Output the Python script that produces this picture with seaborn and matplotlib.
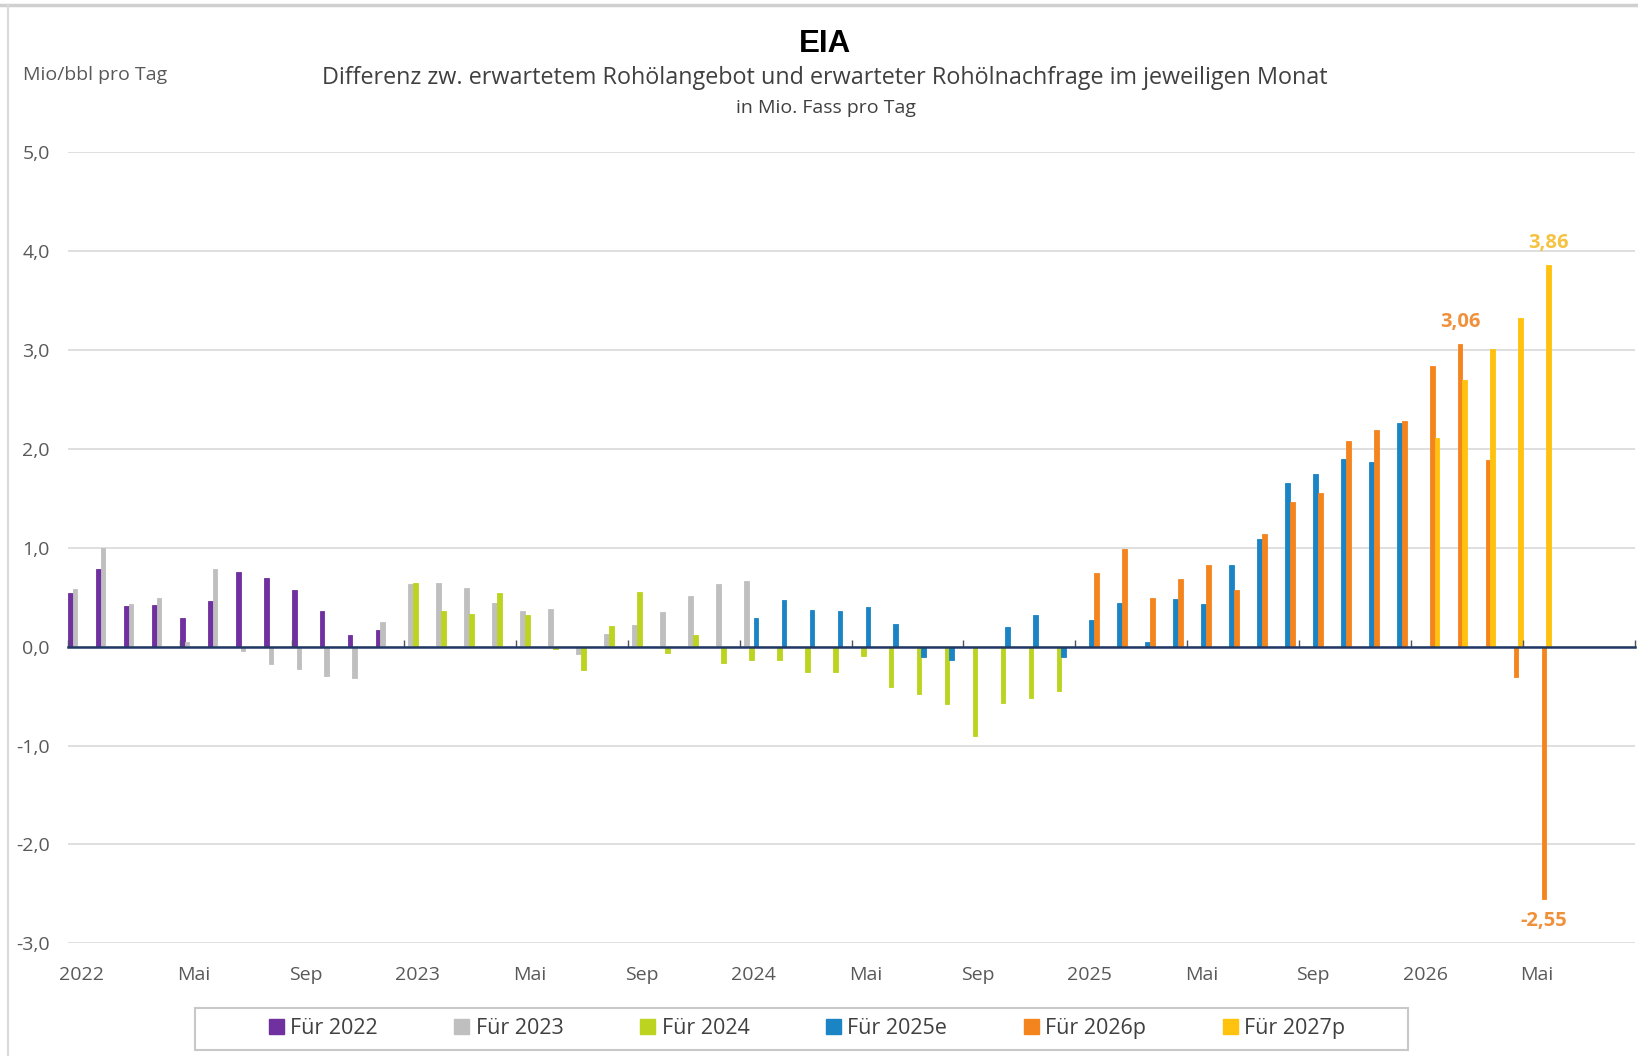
import matplotlib
matplotlib.use("Agg")
import matplotlib.pyplot as plt
from matplotlib.patches import Rectangle
from matplotlib.lines import Line2D
import seaborn as sns
import pandas as pd

# Monate Jan 2022 .. Aug 2026
months = pd.date_range("2022-01-01", "2026-08-01", freq="MS")
month_keys = [d.strftime("%Y-%m") for d in months]

series_names = ["Für 2022", "Für 2023", "Für 2024", "Für 2025e", "Für 2026p", "Für 2027p"]
series_colors = ["#7030A0", "#BFBFBF", "#BCD41F", "#1B84C4", "#F4851E", "#FFC20E"]

# erster Monat jeder Reihe + Werte (Mio. bbl/Tag)
start_2022 = "2022-01"
vals_2022 = [0.54, 0.79, 0.41, 0.42, 0.29, 0.46, 0.76, 0.70, 0.57, 0.36, 0.12, 0.17]
start_2023 = "2022-01"
vals_2023 = [0.58, 1.00, 0.43, 0.49, 0.05, 0.79, -0.04, -0.17, -0.23, -0.30, -0.32, 0.25,
             0.63, 0.65, 0.59, 0.44, 0.36, 0.38, -0.07, 0.13, 0.22, 0.35, 0.51, 0.63, 0.67]
start_2024 = "2023-01"
vals_2024 = [0.64, 0.36, 0.33, 0.54, 0.32, -0.02, -0.24, 0.21, 0.55, -0.06, 0.12, -0.16,
             -0.13, -0.13, -0.26, -0.26, -0.09, -0.41, -0.48, -0.58, -0.90, -0.57, -0.52, -0.45]
start_2025 = "2024-01"
vals_2025 = [0.29, 0.47, 0.37, 0.36, 0.40, 0.23, -0.10, -0.13, 0.0, 0.20, 0.32, -0.10,
             0.27, 0.44, 0.05, 0.48, 0.43, 0.83, 1.09, 1.66, 1.75, 1.90, 1.87, 2.26]
start_2026 = "2025-01"
vals_2026 = [0.75, 0.99, 0.49, 0.69, 0.83, 0.57, 1.14, 1.46, 1.56, 2.08, 2.19, 2.28,
             2.84, 3.06, 1.89, -0.31, -2.55]
start_2027 = "2026-01"
vals_2027 = [2.11, 2.70, 3.01, 3.33, 3.86]

# beschriftete Werte: (Reihe, Monat, Farbe)
labelled = [("Für 2026p", "2026-02", "#F0903A"),
            ("Für 2026p", "2026-05", "#F0903A"),
            ("Für 2027p", "2026-05", "#F5C242")]

rows = []
for name, start, vals in zip(series_names,
                             [start_2022, start_2023, start_2024, start_2025, start_2026, start_2027],
                             [vals_2022, vals_2023, vals_2024, vals_2025, vals_2026, vals_2027]):
    i0 = month_keys.index(start)
    for k, v in enumerate(vals):
        rows.append({"monat": month_keys[i0 + k], "serie": name, "wert": v})
df = pd.DataFrame(rows)

sns.set_style("white")
plt.rcParams["font.family"] = ["Open Sans", "DejaVu Sans"]

fig = plt.figure(figsize=(16.38, 10.56), dpi=100)
ax = fig.add_axes([0.0415, 0.1067, 0.9567, 0.7489])

sns.barplot(data=df, x="monat", y="wert", hue="serie", order=month_keys,
            hue_order=series_names, palette=series_colors, width=1.0, gap=0.0,
            dodge=True, saturation=1, errorbar=None, ax=ax)
for cont in ax.containers:
    for b in cont:
        b.set_edgecolor(b.get_facecolor())
        b.set_linewidth(0.6)

ax.set_xlim(-0.5, len(month_keys) - 0.5)
ax.set_ylim(-3, 5)
ax.set_yticks(range(-3, 6))
ax.set_yticklabels([f"{v:.1f}".replace(".", ",") for v in range(-3, 6)])
tick_pos = [i for i, d in enumerate(months) if d.month in (1, 5, 9)]
tick_lab = [str(months[i].year) if months[i].month == 1 else ("Mai" if months[i].month == 5 else "Sep")
            for i in tick_pos]
ax.set_xticks(tick_pos)
ax.set_xticklabels(tick_lab)
ax.set_xlabel("")
ax.set_ylabel("")
ax.tick_params(axis="y", length=0, pad=13, labelsize=14, labelcolor="#595959")
ax.tick_params(axis="x", length=0, pad=16, labelsize=14, labelcolor="#595959")
ax.yaxis.grid(True, color="#D9D9D9", lw=1.2)
ax.set_axisbelow(True)
for s in ax.spines.values():
    s.set_visible(False)

# Nulllinie mit kleinen Teilstrichen alle 4 Monate
zero = ax.secondary_xaxis(0, transform=ax.transData)
zero.spines["bottom"].set_color("#203864")
zero.spines["bottom"].set_linewidth(1.8)
zero.set_xticks([i - 0.5 for i in range(0, len(month_keys) + 1, 4)])
zero.tick_params(axis="x", direction="in", length=5, width=1.0, color="#505060", labelbottom=False)
zero.set_zorder(3)

# Werte-Beschriftungen
for cont, name in zip(ax.containers, series_names):
    sub = df[df["serie"] == name]
    labs = []
    cols = []
    for m, v in zip(sub["monat"], sub["wert"]):
        hit = [c for (n, mm, c) in labelled if n == name and mm == m]
        labs.append(f"{v:.2f}".replace(".", ",") if hit else "")
        cols.append(hit[0] if hit else "black")
    if any(labs):
        texts = ax.bar_label(cont, labels=labs, padding=9, fontsize=14.5, fontweight="bold")
        for t, c in zip(texts, cols):
            t.set_color(c)

# Legende
leg = ax.get_legend()
if leg is not None:
    leg.remove()
handles = [Rectangle((0, 0), 1, 1, color=c) for c in series_colors]
ax.legend(handles, series_names, loc="center", bbox_to_anchor=(0.4927, 0.0256),
          bbox_transform=fig.transFigure, ncol=6, frameon=False, fontsize=15.5,
          handlelength=0.7, handleheight=0.7, handletextpad=0.3, columnspacing=3.55,
          labelcolor="#404040")
fig.patches.append(Rectangle((195 / 1638, 6 / 1056), 1213 / 1638, 42 / 1056,
                             transform=fig.transFigure, fill=False, edgecolor="#C8C8C8", lw=1.5))

# Rahmen
fig.lines.append(Line2D([0, 1], [0.9955, 0.9955], transform=fig.transFigure, color="#D0D0D0", lw=2.5))
fig.lines.append(Line2D([0.005, 0.005], [0, 0.9955], transform=fig.transFigure, color="#DADADA", lw=1.5))

# Titel
fig.text(0.5037, 0.958, "EIA", ha="center", va="center", fontsize=22.5, fontweight="bold",
         family=["Liberation Sans", "DejaVu Sans"], color="black")
fig.text(0.5037, 0.926, "Differenz zw. erwartetem Rohölangebot und erwarteter Rohölnachfrage im jeweiligen Monat",
         ha="center", va="center", fontsize=16.8, color="#404040")
fig.text(0.504, 0.898, "in Mio. Fass pro Tag", ha="center", va="center", fontsize=14, color="#404040")
fig.text(0.014, 0.929, "Mio/bbl pro Tag", ha="left", va="center", fontsize=14, color="#595959")

fig.savefig("out.png", dpi=100)
